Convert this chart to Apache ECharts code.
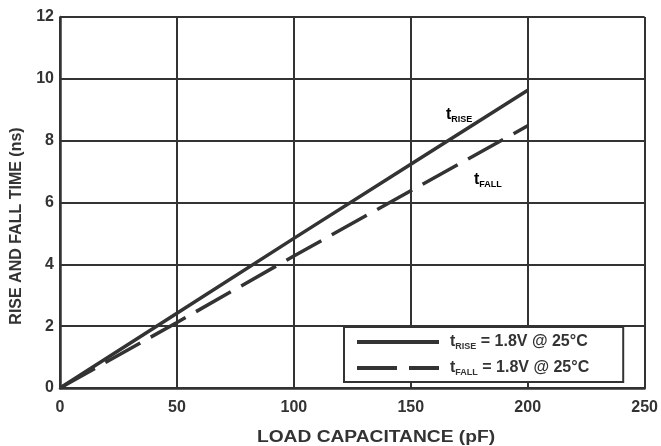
<!DOCTYPE html>
<html>
<head>
<meta charset="utf-8">
<script src="https://cdn.jsdelivr.net/npm/echarts@6/dist/echarts.min.js"></script>
<style>
  html, body { margin: 0; padding: 0; background: #fff; }
  #chart { width: 661px; height: 446px; }
</style>
</head>
<body>
<div id="chart"></div>
<script>
// 负载电容 (pF)
var capX = [0, 50, 100, 150, 200]
// 上升时间 (ns)
var riseTime = [0, 2.42, 4.84, 7.24, 9.63]
// 下降时间 (ns)
var fallTime = [0, 2.12, 4.27, 6.38, 8.48]

var xTicks = [0, 50, 100, 150, 200, 250]
var yTicks = [0, 2, 4, 6, 8, 10, 12]

var riseName = 'tRISE'
var fallName = 'tFALL'

var ink = '#333333'
var font = '"Liberation Sans", Arial, Helvetica, sans-serif'

function pairs(xs, ys) {
  return xs.map(function (x, i) { return [x, ys[i]] })
}

// 下标文字
var richSub = {
  t: { fontSize: 16, fontWeight: 'bold', color: ink, fontFamily: font, lineHeight: 16 },
  g: { fontSize: 16, fontWeight: 'bold', color: ink, fontFamily: font, lineHeight: 16, padding: [0, 0, 0, 6] },
  s: { fontSize: 9, fontWeight: 'bold', color: ink, fontFamily: font, padding: [9, 0, 0, 0] }
}

var chart = echarts.init(document.getElementById('chart'))

var options = {
  animation: false,
  backgroundColor: '#fff',
  grid: {
    left: 60,
    top: 17,
    right: 14,
    bottom: 58
  },
  xAxis: {
    type: 'value',
    min: xTicks[0],
    max: xTicks[xTicks.length - 1],
    interval: 50,
    axisLine: { lineStyle: { color: ink, width: 2.5 } },
    axisTick: { show: false },
    axisLabel: {
      color: ink,
      fontSize: 16,
      fontWeight: 'bold',
      fontFamily: font,
      margin: 12
    },
    splitLine: { show: true, lineStyle: { color: ink, width: 2 } }
  },
  yAxis: {
    type: 'value',
    min: yTicks[0],
    max: yTicks[yTicks.length - 1],
    interval: 2,
    axisLine: { show: true, lineStyle: { color: ink, width: 2.5 } },
    axisTick: { show: false },
    axisLabel: {
      color: ink,
      fontSize: 16,
      fontWeight: 'bold',
      fontFamily: font,
      margin: 6
    },
    splitLine: { show: true, lineStyle: { color: ink, width: 2 } }
  },
  legend: {
    orient: 'vertical',
    left: 344,
    top: 327,
    backgroundColor: '#fff',
    borderColor: ink,
    borderWidth: 2,
    padding: [7, 34, 5, 11],
    itemGap: 9,
    itemWidth: 82,
    itemHeight: 14,
    itemStyle: { opacity: 0 },
    lineStyle: { width: 4 },
    data: [riseName, fallName],
    formatter: function (name) {
      var sub = name === riseName ? 'RISE' : 'FALL'
      return '{g|t}{s|' + sub + '}{t| = 1.8V @ 25°C}'
    },
    textStyle: { rich: richSub }
  },
  graphic: [
    {
      type: 'text',
      x: 376,
      y: 438,
      scaleX: 1.2,
      style: {
        text: 'LOAD CAPACITANCE (pF)',
        fill: ink,
        font: 'bold 16px ' + font,
        align: 'center',
        verticalAlign: 'middle'
      }
    },
    {
      type: 'text',
      x: 17,
      y: 226,
      rotation: Math.PI / 2,
      style: {
        text: 'RISE AND FALL TIME (ns)',
        fill: ink,
        font: 'bold 16px ' + font,
        align: 'center',
        verticalAlign: 'middle'
      }
    },
    {
      type: 'text',
      x: 446,
      y: 106,
      style: { text: '{t|t}{s|RISE}', rich: richSub }
    },
    {
      type: 'text',
      x: 474,
      y: 171,
      style: { text: '{t|t}{s|FALL}', rich: richSub }
    }
  ],
  series: [
    {
      name: riseName,
      type: 'line',
      showSymbol: false,
      symbol: 'none',
      lineStyle: { color: ink, width: 3.5 },
      itemStyle: { color: ink },
      data: pairs(capX, riseTime)
    },
    {
      name: fallName,
      type: 'line',
      showSymbol: false,
      symbol: 'none',
      lineStyle: { color: ink, width: 3.5, type: [40, 12] },
      itemStyle: { color: ink },
      data: pairs(capX, fallTime)
    }
  ]
}

chart.setOption(options)
</script>
</body>
</html>
